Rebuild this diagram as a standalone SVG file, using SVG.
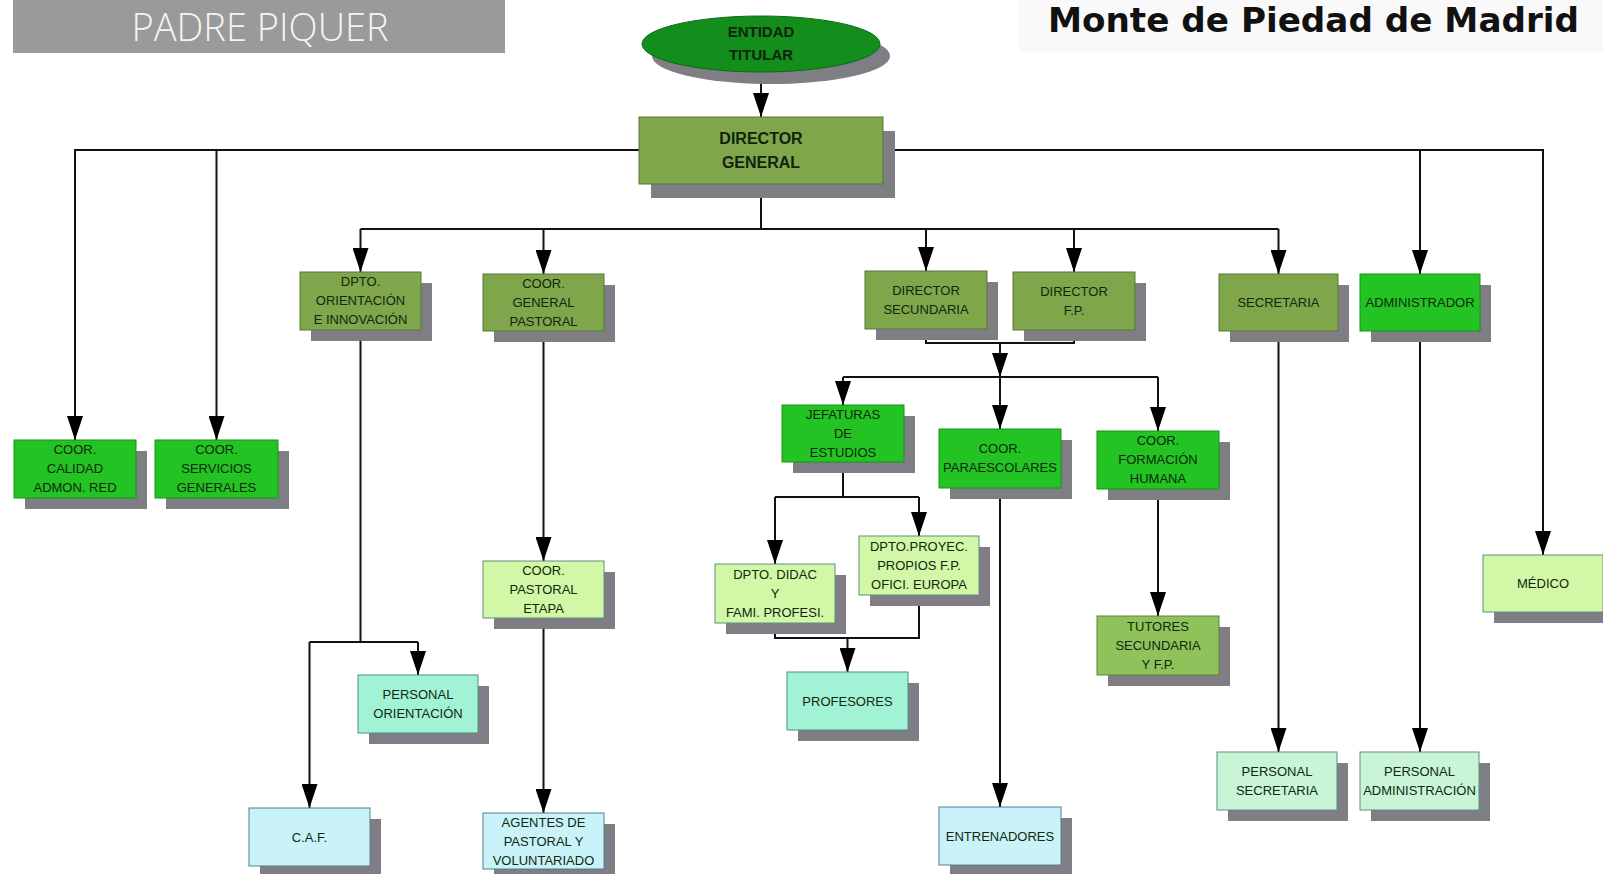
<svg xmlns="http://www.w3.org/2000/svg" width="1603" height="874" viewBox="0 0 1603 874">
<style>
.sh{fill:#7e7e84}
.ol{fill:#7fa64b;stroke:#56783a;stroke-width:1}
.bg{fill:#22c322;stroke:#179417;stroke-width:1}
.ly{fill:#d2f7a6;stroke:#5f8f80;stroke-width:1}
.aq{fill:#a2f3d6;stroke:#4f8f86;stroke-width:1}
.cy{fill:#c9f3f8;stroke:#4f7f92;stroke-width:1}
.mi{fill:#c9f5d6;stroke:#5a8f86;stroke-width:1}
.tu{fill:#8fc25a;stroke:#5b833a;stroke-width:1}
.t{font-family:"Liberation Sans",Arial,sans-serif;font-size:13px;fill:#10280e;text-anchor:middle}
.tb{font-family:"Liberation Sans",Arial,sans-serif;font-weight:bold;fill:#10240c;text-anchor:middle}
.c{fill:none;stroke:#111;stroke-width:2}
.a{fill:none;stroke:#111;stroke-width:2;marker-end:url(#arr)}
</style>
<defs>
<marker id="arr" markerUnits="userSpaceOnUse" markerWidth="24" markerHeight="16" refX="24" refY="8" orient="auto" viewBox="0 0 24 16">
<path d="M0,0 L24,8 L0,16 Z" fill="#000"/>
</marker>
</defs>
<rect width="1603" height="874" fill="#ffffff"/>

<g id="header-left">
<rect x="13" y="0" width="492" height="53" fill="#9a9a9a"/>
<text x="260" y="41" font-family="'Open Sans','DejaVu Sans',sans-serif" font-weight="300" font-size="38" fill="#f4f4f4" text-anchor="middle">PADRE PIQUER</text>
</g>
<g id="header-right">
<rect x="1018" y="0" width="585" height="52" fill="#f9f9f9"/>
<text x="1048" y="32" font-family="'DejaVu Sans',sans-serif" font-weight="bold" font-size="33" fill="#111" textLength="531" lengthAdjust="spacingAndGlyphs">Monte de Piedad de Madrid</text>
</g>

<g id="connectors">
<path class="a" d="M761,72 V117"/>
<path class="a" d="M639,150 H75 V440"/>
<path class="a" d="M216.5,150 V440"/>
<path class="a" d="M883,150 H1543 V555"/>
<path class="a" d="M1420,150 V274"/>
<path class="c" d="M761,184 V229"/>
<path class="c" d="M360.5,229 H1278.5"/>
<path class="a" d="M360.5,229 V272"/>
<path class="a" d="M543.5,229 V274"/>
<path class="a" d="M926,229 V271"/>
<path class="a" d="M1074,229 V272"/>
<path class="a" d="M1278.5,229 V274"/>
<path class="c" d="M926,329 V343 H1074 V330"/>
<path class="a" d="M1000,343 V377"/>
<path class="c" d="M843,377 H1158"/>
<path class="a" d="M843,377 V405"/>
<path class="a" d="M1000,377 V429"/>
<path class="a" d="M1158,377 V431"/>
<path class="c" d="M843,462 V497"/>
<path class="c" d="M775,497 H919"/>
<path class="a" d="M775,497 V564"/>
<path class="a" d="M919,497 V536"/>
<path class="c" d="M775,623 V638 H919 V595"/>
<path class="a" d="M847.5,638 V672"/>
<path class="a" d="M543.5,331 V561"/>
<path class="a" d="M543.5,618 V813"/>
<path class="c" d="M360.5,330 V642"/>
<path class="c" d="M309.5,642 H418"/>
<path class="a" d="M418,642 V675"/>
<path class="a" d="M309.5,642 V808"/>
<path class="a" d="M1000,488 V807"/>
<path class="a" d="M1158,489 V616"/>
<path class="a" d="M1278.5,331 V752"/>
<path class="a" d="M1420,331 V752"/>
</g>

<g id="entidad-titular">
<ellipse cx="771" cy="56" rx="119" ry="28" class="sh"/>
<ellipse cx="761" cy="44" rx="119" ry="28" fill="#138d1c" stroke="#0c6a14" stroke-width="1"/>
<text class="tb" x="761" y="37" font-size="15">ENTIDAD</text>
<text class="tb" x="761" y="60" font-size="15">TITULAR</text>
</g>

<g id="director-general">
<rect x="651" y="131" width="244" height="67" class="sh"/>
<rect x="639" y="117" width="244" height="67" class="ol"/>
<text class="tb" x="761" y="144" font-size="16">DIRECTOR</text>
<text class="tb" x="761" y="168" font-size="16">GENERAL</text>
</g>

<g id="dpto-orientacion">
<rect x="311" y="283" width="121" height="58" class="sh"/>
<rect x="300" y="272" width="121" height="58" class="ol"/>
<text class="t" x="360.5" y="286">DPTO.</text>
<text class="t" x="360.5" y="305">ORIENTACIÓN</text>
<text class="t" x="360.5" y="324">E INNOVACIÓN</text>
</g>

<g id="coor-general-pastoral">
<rect x="494" y="285" width="121" height="57" class="sh"/>
<rect x="483" y="274" width="121" height="57" class="ol"/>
<text class="t" x="543.5" y="288">COOR.</text>
<text class="t" x="543.5" y="307">GENERAL</text>
<text class="t" x="543.5" y="326">PASTORAL</text>
</g>

<g id="director-secundaria">
<rect x="876" y="282" width="122" height="58" class="sh"/>
<rect x="865" y="271" width="122" height="58" class="ol"/>
<text class="t" x="926" y="295">DIRECTOR</text>
<text class="t" x="926" y="314">SECUNDARIA</text>
</g>

<g id="director-fp">
<rect x="1024" y="283" width="122" height="58" class="sh"/>
<rect x="1013" y="272" width="122" height="58" class="ol"/>
<text class="t" x="1074" y="296">DIRECTOR</text>
<text class="t" x="1074" y="315">F.P.</text>
</g>

<g id="secretaria">
<rect x="1230" y="285" width="119" height="57" class="sh"/>
<rect x="1219" y="274" width="119" height="57" class="ol"/>
<text class="t" x="1278.5" y="307">SECRETARIA</text>
</g>

<g id="administrador">
<rect x="1371" y="285" width="120" height="57" class="sh"/>
<rect x="1360" y="274" width="120" height="57" class="bg"/>
<text class="t" x="1420" y="307">ADMINISTRADOR</text>
</g>

<g id="coor-calidad">
<rect x="25" y="451" width="122" height="58" class="sh"/>
<rect x="14" y="440" width="122" height="58" class="bg"/>
<text class="t" x="75" y="454">COOR.</text>
<text class="t" x="75" y="473">CALIDAD</text>
<text class="t" x="75" y="492">ADMON. RED</text>
</g>

<g id="coor-servicios">
<rect x="166" y="451" width="123" height="58" class="sh"/>
<rect x="155" y="440" width="123" height="58" class="bg"/>
<text class="t" x="216.5" y="454">COOR.</text>
<text class="t" x="216.5" y="473">SERVICIOS</text>
<text class="t" x="216.5" y="492">GENERALES</text>
</g>

<g id="jefaturas">
<rect x="793" y="416" width="122" height="57" class="sh"/>
<rect x="782" y="405" width="122" height="57" class="bg"/>
<text class="t" x="843" y="419">JEFATURAS</text>
<text class="t" x="843" y="438">DE</text>
<text class="t" x="843" y="457">ESTUDIOS</text>
</g>

<g id="coor-paraescolares">
<rect x="950" y="440" width="122" height="59" class="sh"/>
<rect x="939" y="429" width="122" height="59" class="bg"/>
<text class="t" x="1000" y="453">COOR.</text>
<text class="t" x="1000" y="472">PARAESCOLARES</text>
</g>

<g id="coor-formacion">
<rect x="1108" y="442" width="122" height="58" class="sh"/>
<rect x="1097" y="431" width="122" height="58" class="bg"/>
<text class="t" x="1158" y="445">COOR.</text>
<text class="t" x="1158" y="464">FORMACIÓN</text>
<text class="t" x="1158" y="483">HUMANA</text>
</g>

<g id="dpto-didac">
<rect x="726" y="575" width="120" height="59" class="sh"/>
<rect x="715" y="564" width="120" height="59" class="ly"/>
<text class="t" x="775" y="579">DPTO. DIDAC</text>
<text class="t" x="775" y="598">Y</text>
<text class="t" x="775" y="617">FAMI. PROFESI.</text>
</g>

<g id="dpto-proyec">
<rect x="870" y="547" width="120" height="59" class="sh"/>
<rect x="859" y="536" width="120" height="59" class="ly"/>
<text class="t" x="919" y="551">DPTO.PROYEC.</text>
<text class="t" x="919" y="570">PROPIOS F.P.</text>
<text class="t" x="919" y="589">OFICI. EUROPA</text>
</g>

<g id="profesores">
<rect x="798" y="683" width="121" height="58" class="sh"/>
<rect x="787" y="672" width="121" height="58" class="aq"/>
<text class="t" x="847.5" y="705.5">PROFESORES</text>
</g>

<g id="coor-pastoral-etapa">
<rect x="494" y="572" width="121" height="57" class="sh"/>
<rect x="483" y="561" width="121" height="57" class="ly"/>
<text class="t" x="543.5" y="575">COOR.</text>
<text class="t" x="543.5" y="594">PASTORAL</text>
<text class="t" x="543.5" y="613">ETAPA</text>
</g>

<g id="agentes-pastoral">
<rect x="494" y="824" width="121" height="56" class="sh"/>
<rect x="483" y="813" width="121" height="56" class="cy"/>
<text class="t" x="543.5" y="827">AGENTES DE</text>
<text class="t" x="543.5" y="846">PASTORAL Y</text>
<text class="t" x="543.5" y="865">VOLUNTARIADO</text>
</g>

<g id="personal-orientacion">
<rect x="369" y="686" width="120" height="58" class="sh"/>
<rect x="358" y="675" width="120" height="58" class="aq"/>
<text class="t" x="418" y="699">PERSONAL</text>
<text class="t" x="418" y="718">ORIENTACIÓN</text>
</g>

<g id="caf">
<rect x="260" y="819" width="121" height="58" class="sh"/>
<rect x="249" y="808" width="121" height="58" class="cy"/>
<text class="t" x="309.5" y="841.5">C.A.F.</text>
</g>

<g id="entrenadores">
<rect x="950" y="818" width="122" height="58" class="sh"/>
<rect x="939" y="807" width="122" height="58" class="cy"/>
<text class="t" x="1000" y="840.5">ENTRENADORES</text>
</g>

<g id="tutores">
<rect x="1108" y="627" width="122" height="59" class="sh"/>
<rect x="1097" y="616" width="122" height="59" class="tu"/>
<text class="t" x="1158" y="631">TUTORES</text>
<text class="t" x="1158" y="650">SECUNDARIA</text>
<text class="t" x="1158" y="669">Y F.P.</text>
</g>

<g id="personal-secretaria">
<rect x="1228" y="763" width="120" height="58" class="sh"/>
<rect x="1217" y="752" width="120" height="58" class="mi"/>
<text class="t" x="1277" y="776">PERSONAL</text>
<text class="t" x="1277" y="795">SECRETARIA</text>
</g>

<g id="personal-administracion">
<rect x="1371" y="763" width="119" height="58" class="sh"/>
<rect x="1360" y="752" width="119" height="58" class="mi"/>
<text class="t" x="1419.5" y="776">PERSONAL</text>
<text class="t" x="1419.5" y="795">ADMINISTRACIÓN</text>
</g>

<g id="medico">
<rect x="1494" y="566" width="120" height="57" class="sh"/>
<rect x="1483" y="555" width="120" height="57" class="ly"/>
<text class="t" x="1543" y="588">MÉDICO</text>
</g>
</svg>
